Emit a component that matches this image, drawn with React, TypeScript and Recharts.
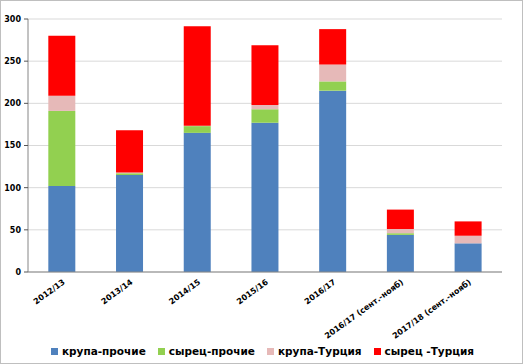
import React from "react";
import { BarChart, Bar, XAxis, YAxis, CartesianGrid, Legend } from "recharts";

const categories = [
  "2012/13",
  "2013/14",
  "2014/15",
  "2015/16",
  "2016/17",
  "2016/17 (сент.-нояб)",
  "2017/18 (сент.-нояб)",
];
const krupaProchie = [102, 115, 165, 177, 215, 44, 34];
const syrecProchie = [89, 2, 8, 16, 11, 2, 0];
const krupaTurkey = [18, 1, 0.5, 5, 20, 5, 9];
const syrecTurkey = [71, 50, 118, 71, 42, 23, 17];
const yTicks = [0, 50, 100, 150, 200, 250, 300];
const boundaryTicks = [0, 1, 2, 3, 4, 5, 6, 7];

const seriesNames = ["крупа-прочие", "сырец-прочие", "крупа-Турция", "сырец -Турция"];
const seriesColors = ["#4F81BD", "#92D050", "#E6B9B8", "#FF0000"];
const seriesKeys = ["kp", "sp", "kt", "st"];

const data = categories.map((name, i) => ({
  name,
  pos: i + 0.5,
  kp: krupaProchie[i],
  sp: syrecProchie[i],
  kt: krupaTurkey[i],
  st: syrecTurkey[i],
}));

const FONT = "'DejaVu Sans', Verdana, sans-serif";

const RotTick = (props: any) => {
  const { x, y, payload } = props;
  return (
    <g transform={`translate(${x + 2},${y - 4})`}>
      <text
        textAnchor="end"
        transform="rotate(-36)"
        dy="0.35em"
        fontFamily={FONT}
        fontSize={8}
        fontWeight="bold"
        fill="#000"
      >
        {payload.value}
      </text>
    </g>
  );
};

const LegendContent = () => (
  <div
    style={{
      display: "flex",
      justifyContent: "center",
      fontFamily: FONT,
      fontSize: 10.5,
      fontWeight: "bold",
      color: "#000",
      lineHeight: "14px",
      paddingLeft: 22,
    }}
  >
    {seriesNames.map((n, i) => (
      <span
        key={n}
        style={{
          display: "inline-flex",
          alignItems: "center",
          marginRight: i < seriesNames.length - 1 ? 12 : 0,
        }}
      >
        <span
          style={{
            display: "inline-block",
            width: 7,
            height: 7,
            background: seriesColors[i],
            marginRight: 4,
          }}
        />
        {n}
      </span>
    ))}
  </div>
);

export default function App() {
  return (
    <div
      style={{
        position: "absolute",
        left: 0,
        top: 0,
        width: 521,
        height: 362,
        border: "1px solid #BFBFBF",
        background: "#fff",
      }}
    >
      <BarChart
        width={521}
        height={362}
        data={data}
        margin={{ top: 18, right: 20, left: 0, bottom: 5 }}
        barCategoryGap="30%"
      >
        <CartesianGrid xAxisId="c" yAxisId="l" vertical={false} stroke="#D9D9D9" />
        <XAxis
          xAxisId="a"
          dataKey="pos"
          type="number"
          domain={[0, 7]}
          ticks={boundaryTicks}
          allowDataOverflow
          height={5}
          tickSize={5}
          tick={false}
          stroke="#868686"
          tickLine={{ stroke: "#555" }}
        />
        <XAxis
          xAxisId="c"
          dataKey="name"
          interval={0}
          height={67}
          axisLine={false}
          tickLine={false}
          tick={<RotTick />}
        />
        <YAxis
          yAxisId="l"
          domain={[0, 300]}
          ticks={yTicks}
          width={27}
          tickSize={4}
          tickMargin={3}
          stroke="#868686"
          tickLine={{ stroke: "#555" }}
          tick={{ fontFamily: FONT, fontSize: 8, fontWeight: "bold", fill: "#000" }}
        />
        <YAxis
          yAxisId="r"
          orientation="right"
          domain={[0, 300]}
          width={0}
          tick={false}
          tickLine={false}
          stroke="#BFBFBF"
        />
        <Legend verticalAlign="bottom" height={14} content={<LegendContent />} />
        {seriesKeys.map((k, i) => (
          <Bar
            key={k}
            xAxisId="c"
            yAxisId="l"
            dataKey={k}
            name={seriesNames[i]}
            stackId="a"
            fill={seriesColors[i]}
            isAnimationActive={false}
          />
        ))}
      </BarChart>
    </div>
  );
}
